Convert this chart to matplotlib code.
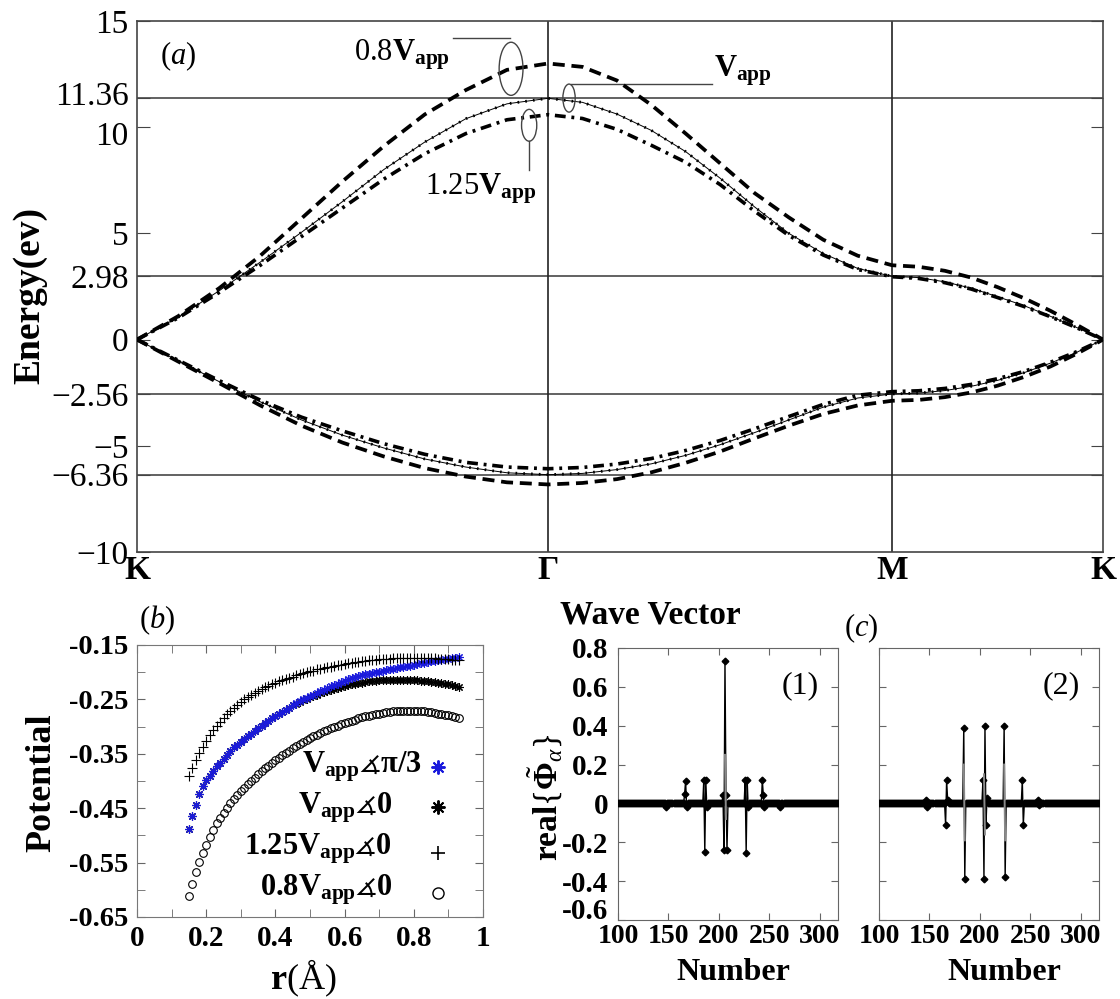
import matplotlib
matplotlib.use("Agg")
import matplotlib.pyplot as plt
import matplotlib.transforms as mtransforms
import numpy as np
from matplotlib.patches import Ellipse
from matplotlib.ticker import MultipleLocator

plt.rcParams["font.family"] = ["Liberation Serif", "DejaVu Serif"]
plt.rcParams["mathtext.fontset"] = "custom"
plt.rcParams["mathtext.rm"] = "Liberation Serif"
plt.rcParams["mathtext.it"] = "Liberation Serif:italic"
plt.rcParams["mathtext.bf"] = "Liberation Serif:bold"
plt.rcParams["mathtext.fallback"] = "stix"

# ── (a) band structure along K-Γ-M-K ──
sym_pos = [0.0, 1.0, 1.837, 2.35]
sym_labels = ["K", "Γ", "M", "K"]
grid_levels = [11.36, 2.98, -2.56, -6.36]
e_ticks = [-10, -6.36, -5, -2.56, 0, 2.98, 5, 10, 11.36, 15]
e_tick_labels = ["−10", "−6.36", "−5", "−2.56", "0", "2.98", "5", "10", "11.36", "15"]

# values along K->Γ (11 pts), Γ->M (10 pts), M->K (8 pts)
v_up = [0, 1.05, 2.3, 3.65, 5.05, 6.5, 8.0, 9.3, 10.4, 11.1, 11.36,
        11.17, 10.62, 9.85, 8.85, 7.6, 6.25, 5.0, 4.05, 3.35, 2.98,
        2.92, 2.72, 2.42, 2.02, 1.6, 1.1, 0.57, 0]
v_dn = [0, -1.0, -1.98, -2.93, -3.78, -4.5, -5.1, -5.62, -6.0, -6.27, -6.36,
        -6.3, -6.12, -5.85, -5.45, -4.95, -4.38, -3.78, -3.18, -2.75, -2.56,
        -2.52, -2.4, -2.2, -1.92, -1.56, -1.11, -0.6, 0]
v08_up = [0, 1.1, 2.42, 3.95, 5.7, 7.45, 9.1, 10.6, 11.75, 12.7, 13.0,
          12.84, 12.2, 11.05, 9.7, 8.3, 6.9, 5.75, 4.7, 3.95, 3.5,
          3.43, 3.24, 2.92, 2.47, 1.95, 1.36, 0.7, 0]
v08_dn = [0, -1.03, -2.05, -3.1, -4.05, -4.85, -5.5, -6.05, -6.45, -6.72, -6.82,
          -6.75, -6.57, -6.25, -5.8, -5.27, -4.65, -4.05, -3.5, -3.1, -2.88,
          -2.84, -2.71, -2.49, -2.17, -1.76, -1.27, -0.67, 0]
v125_up = [0, 1.02, 2.22, 3.5, 4.85, 6.2, 7.55, 8.75, 9.7, 10.35, 10.59,
           10.41, 9.9, 9.15, 8.35, 7.3, 6.05, 4.9, 3.98, 3.3, 2.96,
           2.88, 2.68, 2.38, 1.98, 1.56, 1.08, 0.56, 0]
v125_dn = [0, -0.97, -1.93, -2.85, -3.65, -4.3, -4.9, -5.4, -5.78, -6.0, -6.08,
           -6.02, -5.86, -5.6, -5.22, -4.75, -4.2, -3.62, -3.05, -2.62, -2.45,
           -2.41, -2.3, -2.11, -1.84, -1.5, -1.07, -0.57, 0]

# ── (b) potential vs r ──
r_vals = np.round(np.arange(0.15, 0.935, 0.01), 2)
pot_pi3 = [-0.489, -0.465, -0.444, -0.423, -0.410, -0.399, -0.390, -0.381, -0.373, -0.366,
           -0.359, -0.352, -0.345, -0.338, -0.333, -0.328, -0.323, -0.318, -0.313, -0.308,
           -0.303, -0.298, -0.294, -0.289, -0.285, -0.281, -0.277, -0.273, -0.269, -0.265,
           -0.261, -0.257, -0.253, -0.250, -0.247, -0.244, -0.241, -0.238, -0.235, -0.232,
           -0.229, -0.226, -0.223, -0.221, -0.218, -0.216, -0.213, -0.211, -0.209, -0.207,
           -0.205, -0.204, -0.203, -0.201, -0.200, -0.199, -0.198, -0.196, -0.195, -0.194,
           -0.193, -0.191, -0.190, -0.189, -0.188, -0.186, -0.185, -0.184, -0.183, -0.182,
           -0.180, -0.179, -0.178, -0.177, -0.176, -0.175, -0.174, -0.173, -0.172]
pot_0 = [-0.489, -0.465, -0.444, -0.423, -0.410, -0.399, -0.390, -0.381, -0.373, -0.366,
         -0.359, -0.352, -0.345, -0.338, -0.333, -0.328, -0.323, -0.318, -0.313, -0.308,
         -0.303, -0.298, -0.294, -0.289, -0.285, -0.281, -0.277, -0.273, -0.269, -0.265,
         -0.261, -0.258, -0.254, -0.251, -0.249, -0.246, -0.243, -0.241, -0.239, -0.236,
         -0.234, -0.232, -0.230, -0.229, -0.227, -0.225, -0.224, -0.222, -0.221, -0.220,
         -0.219, -0.218, -0.217, -0.216, -0.216, -0.215, -0.215, -0.214, -0.214, -0.214,
         -0.214, -0.214, -0.214, -0.214, -0.215, -0.215, -0.215, -0.216, -0.216, -0.217,
         -0.218, -0.218, -0.219, -0.220, -0.221, -0.222, -0.224, -0.225, -0.227]
pot_125 = [-0.390, -0.376, -0.362, -0.349, -0.337, -0.326, -0.316, -0.307, -0.299, -0.291,
           -0.284, -0.277, -0.271, -0.265, -0.260, -0.255, -0.250, -0.246, -0.242, -0.238,
           -0.234, -0.231, -0.228, -0.225, -0.222, -0.219, -0.217, -0.214, -0.212, -0.210,
           -0.208, -0.206, -0.204, -0.202, -0.200, -0.198, -0.197, -0.195, -0.194, -0.192,
           -0.191, -0.190, -0.188, -0.187, -0.186, -0.185, -0.184, -0.183, -0.182, -0.181,
           -0.180, -0.179, -0.178, -0.178, -0.177, -0.176, -0.176, -0.175, -0.175, -0.174,
           -0.174, -0.174, -0.173, -0.173, -0.173, -0.173, -0.173, -0.173, -0.173, -0.174,
           -0.174, -0.174, -0.175, -0.175, -0.176, -0.176, -0.177, -0.178, -0.178]
pot_08 = [-0.611, -0.589, -0.567, -0.548, -0.532, -0.517, -0.503, -0.490, -0.478, -0.468,
          -0.458, -0.449, -0.441, -0.433, -0.426, -0.419, -0.412, -0.406, -0.400, -0.394,
          -0.388, -0.382, -0.377, -0.372, -0.367, -0.362, -0.357, -0.353, -0.348, -0.344,
          -0.340, -0.336, -0.332, -0.328, -0.325, -0.321, -0.318, -0.315, -0.312, -0.309,
          -0.306, -0.303, -0.300, -0.298, -0.295, -0.293, -0.291, -0.289, -0.287, -0.285,
          -0.283, -0.281, -0.280, -0.278, -0.277, -0.276, -0.275, -0.274, -0.273, -0.272,
          -0.272, -0.271, -0.271, -0.271, -0.271, -0.271, -0.271, -0.272, -0.272, -0.273,
          -0.274, -0.275, -0.276, -0.277, -0.278, -0.279, -0.281, -0.282, -0.284]

# ── (c) eigenvector components (baseline 0, spikes listed) ──
number = np.arange(100, 319)
spike_idx_1 = [148, 166, 167, 168, 185, 186, 187, 188, 204, 205, 206, 207, 208,
               226, 227, 228, 229, 243, 244, 245, 261]
spike_val_1 = [-0.02, 0.047, 0.117, -0.02, 0.12, -0.25, 0.12, -0.02, 0.045, -0.24, 0.735, 0.045, -0.24,
               0.12, -0.254, 0.12, -0.02, 0.12, 0.043, -0.02, -0.02]
gray_idx_1 = [206, 207]
gray_val_1 = [0.25, -0.08]
spike_idx_2 = [147, 148, 166, 167, 168, 184, 185, 203, 204, 205, 206, 207,
               224, 225, 242, 243, 258, 259]
spike_val_2 = [0.02, -0.02, -0.11, 0.12, 0.02, 0.39, -0.39, 0.12, -0.39, 0.40, -0.11, 0.03,
               0.40, -0.38, 0.12, -0.11, 0.02, -0.01]
gray_idx_2 = [184, 185, 204, 205, 224, 225]
gray_val_2 = [0.2, -0.19, 0.15, -0.16, 0.2, -0.19]

W, H = 1120, 999
fig = plt.figure(figsize=(W / 100, H / 100), dpi=100)


def px_axes(left, top, right, bottom):
    return fig.add_axes([left / W, 1 - bottom / H, (right - left) / W, (bottom - top) / H])


def px_text(x, y, s, **kw):
    fig.text(x / W, 1 - y / H, s, **kw)


def nudge_labels(labels, shifts):
    # shift chosen tick labels vertically (points) so close neighbours do not collide
    for lbl in labels:
        dy = shifts.get(lbl.get_text(), 0)
        if dy:
            lbl.set_transform(lbl.get_transform()
                              + mtransforms.ScaledTranslation(0, dy / 72, fig.dpi_scale_trans))


# ---------------- panel (a) ----------------
ax = px_axes(137, 21, 1103, 552)
k_path = np.concatenate([np.linspace(sym_pos[0], sym_pos[1], 11),
                         np.linspace(sym_pos[1], sym_pos[2], 11)[1:],
                         np.linspace(sym_pos[2], sym_pos[3], 9)[1:]])

for lvl in grid_levels:
    ax.axhline(lvl, color="#555555", lw=1.3, zorder=1)
for xs in sym_pos[1:3]:
    ax.axvline(xs, color="#222222", lw=1.2, zorder=1)

for band in (v08_up, v08_dn):
    ax.plot(k_path, band, color="black", lw=2.7, dashes=(3.2, 1.8), zorder=3)
for band in (v125_up, v125_dn):
    ax.plot(k_path, band, color="black", lw=2.6, dashes=(3.0, 1.6, 0.8, 1.6), zorder=3)
for band in (v_up, v_dn):
    ax.plot(k_path, band, color="black", lw=0.7, zorder=3)
    ax.plot(k_path, band, color="black", lw=2.0, dashes=(0.6, 2.2), zorder=3)

ax.set_xlim(sym_pos[0], sym_pos[-1])
ax.set_ylim(-10, 15)
ax.set_yticks(e_ticks)
ax.set_yticklabels(e_tick_labels, fontsize=24)
ax.set_xticks(sym_pos)
ax.set_xticklabels(sym_labels, fontsize=24, fontweight="bold")
ax.tick_params(axis="y", direction="in", length=9, right=True, pad=6, color="#444444")
ax.tick_params(axis="x", length=0, pad=2)
for s in ax.spines.values():
    s.set_color("#444444")
    s.set_linewidth(1.2)
nudge_labels(ax.get_yticklabels(), {"11.36": 4, "10": -4})

# leader ellipses and labels
ann_color = "#444444"
ax.add_patch(Ellipse((0.91, 12.75), 0.058, 2.5, fill=False, ec=ann_color, lw=1.0, zorder=4))
ax.plot([0.769, 0.908], [14.2, 14.2], color=ann_color, lw=1.0)
ax.text(0.762, 13.4, r"0.8$\mathbf{V}_{\mathbf{app}}$", fontsize=22, ha="right", va="center")

ax.add_patch(Ellipse((1.051, 11.37), 0.03, 1.32, fill=False, ec=ann_color, lw=1.0, zorder=4))
ax.plot([1.055, 1.399], [12.03, 12.03], color=ann_color, lw=1.0)
ax.text(1.404, 12.65, r"$\mathbf{V}_{\mathbf{app}}$", fontsize=22, ha="left", va="center")

ax.add_patch(Ellipse((0.954, 10.09), 0.037, 1.5, fill=False, ec=ann_color, lw=1.0, zorder=4))
ax.plot([0.954, 0.954], [9.34, 8.0], color=ann_color, lw=1.0)
ax.text(0.70, 7.1, r"1.25$\mathbf{V}_{\mathbf{app}}$", fontsize=22, ha="left", va="center")

px_text(178, 56, r"($\mathit{a}$)", fontsize=22, ha="center", va="center")
px_text(30, 295, "Energy(ev)", fontsize=27, fontweight="bold", rotation=90, ha="center", va="center")
px_text(650, 615, "Wave Vector", fontsize=24, fontweight="bold", ha="center", va="center")

# ---------------- panel (b) ----------------
star = (8, 2, 0)
axb = px_axes(137, 645, 483, 917)
axb.plot(r_vals, pot_0, ls="none", marker=star, ms=6, color="black", mew=0.8)
axb.plot(r_vals, pot_pi3, ls="none", marker=star, ms=6, color="#1a1adc", mew=0.8)
axb.plot(r_vals, pot_125, ls="none", marker="+", ms=7, color="black", mew=0.8)
axb.plot(r_vals, pot_08, ls="none", marker="o", ms=5.5, mfc="none", mec="black", mew=0.8)

axb.set_xlim(0, 1)
axb.set_ylim(-0.65, -0.15)
axb.set_xticks([0, 0.2, 0.4, 0.6, 0.8, 1.0])
axb.set_xticklabels(["0", "0.2", "0.4", "0.6", "0.8", "1"], fontsize=21, fontweight="bold")
axb.set_yticks([-0.65, -0.55, -0.45, -0.35, -0.25, -0.15])
axb.set_yticklabels(["-0.65", "-0.55", "-0.45", "-0.35", "-0.25", "-0.15"],
                    fontsize=20.5, fontweight="bold")
axb.xaxis.set_minor_locator(MultipleLocator(0.1))
axb.yaxis.set_minor_locator(MultipleLocator(0.05))
axb.tick_params(which="both", direction="in", top=True, right=True, color="#666666")
axb.tick_params(which="major", length=6, pad=6)
axb.tick_params(which="minor", length=6)
for s in axb.spines.values():
    s.set_color("#777777")

leg_rows = [
    (r"$\mathbf{V}_{\mathbf{app}}\measuredangle$π/3", -0.385, "left", 0.477, "*", "#1a1adc", -0.374),
    (r"$\mathbf{V}_{\mathbf{app}}\measuredangle$0", -0.459, "right", 0.737, "*", "black", -0.448),
    (r"1.25$\mathbf{V}_{\mathbf{app}}\measuredangle$0", -0.536, "right", 0.737, "+", "black", -0.532),
    (r"0.8$\mathbf{V}_{\mathbf{app}}\measuredangle$0", -0.610, "right", 0.737, "o", "black", -0.606),
]
for label, ty, ha, tx, mk, col, my in leg_rows:
    axb.text(tx, ty, label, fontsize=22, fontweight="bold", ha=ha, va="baseline")
    if mk == "o":
        axb.plot([0.87], [my], marker=mk, ms=8, mfc="none", mec=col, mew=1.0)
    elif mk == "*":
        axb.plot([0.87], [my], marker=star, ms=10, color=col, mew=1.4)
    else:
        axb.plot([0.87], [my], marker=mk, ms=10, color=col, mew=1.2)

px_text(157, 620, r"($\mathit{b}$)", fontsize=22, ha="center", va="center")
px_text(42, 783, "Potential", fontsize=26, fontweight="bold", rotation=90, ha="center", va="center")
px_text(303, 978, r"r$\mathrm{(Å)}$", fontsize=26, fontweight="bold", ha="center", va="center")

# ---------------- panel (c) ----------------
def component_panel(left, right, idx, val, gidx, gval, tag, show_ylabels):
    axc = px_axes(left, 648, right, 920)
    phi = np.zeros(len(number))
    phi[np.array(idx) - number[0]] = val
    axc.plot(number, phi, color="black", lw=1.0, marker="D", ms=3.4, zorder=3)
    for i in range(0, len(gidx), 2):
        axc.plot(gidx[i:i + 2], gval[i:i + 2], color="#8a8a8a", lw=1.4, zorder=4)
    axc.set_xlim(100, 318)
    axc.set_ylim(-0.6, 0.8)
    axc.set_xticks([100, 150, 200, 250, 300])
    axc.set_xticklabels(["100", "150", "200", "250", "300"], fontsize=20, fontweight="bold")
    yt = [-0.6, -0.4, -0.2, 0, 0.2, 0.4, 0.6, 0.8]
    axc.set_yticks(yt)
    axc.tick_params(direction="in", top=True, right=True, length=5, color="#666666")
    axc.tick_params(axis="x", pad=3)
    axc.tick_params(axis="y", pad=7)
    if show_ylabels:
        axc.set_yticklabels(["-0.6", "-0.4", "-0.2", "0", "0.2", "0.4", "0.6", "0.8"],
                            fontsize=21, fontweight="bold")
        nudge_labels(axc.get_yticklabels(), {"-0.6": 8})
    else:
        axc.set_yticklabels([])
    for s in axc.spines.values():
        s.set_color("#666666")
    axc.text(0.83, 0.86, tag, transform=axc.transAxes, fontsize=23, ha="center", va="center")
    return axc


component_panel(618, 838, spike_idx_1, spike_val_1, gray_idx_1, gray_val_1, "(1)", True)
component_panel(879, 1099, spike_idx_2, spike_val_2, gray_idx_2, gray_val_2, "(2)", False)

px_text(861, 628, r"($\mathit{c}$)", fontsize=22, ha="center", va="center")
px_text(545, 797, r"real$\{\tilde{\mathbf{\Phi}}_{\alpha}\}$", fontsize=24, fontweight="bold",
        rotation=90, ha="center", va="center")
px_text(733, 972, "Number", fontsize=23, fontweight="bold", ha="center", va="center")
px_text(1004, 973, "Number", fontsize=23, fontweight="bold", ha="center", va="center")

fig.savefig("out.png", dpi=100)
